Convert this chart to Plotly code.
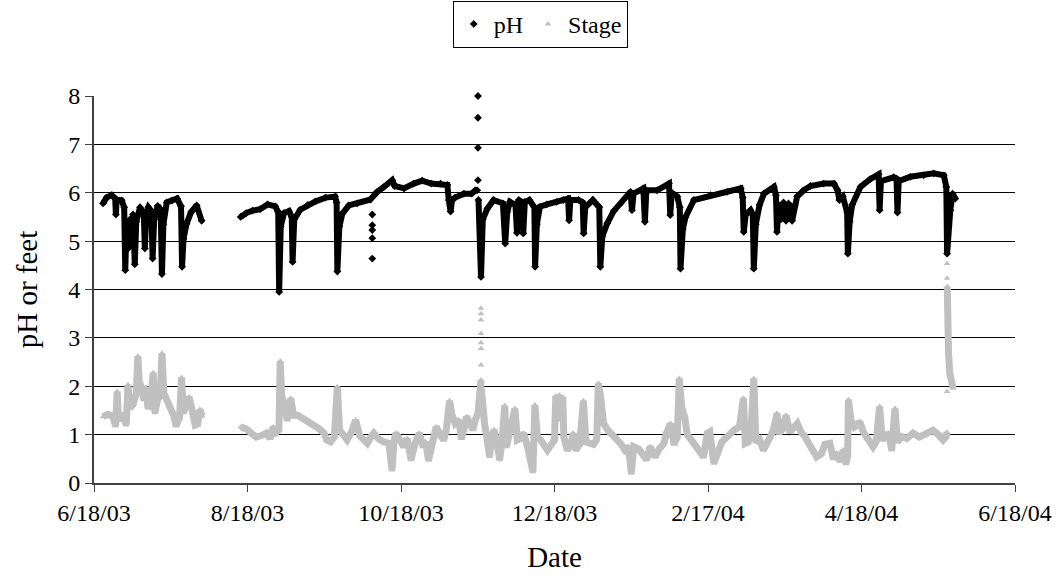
import plotly.graph_objects as go

# Logger readings: (timestamp, value). (None, None) breaks the trace where
# readings are missing or where single readings stand apart from the record.
ph_readings = [
    ("2003-06-21 14:00", 5.78), ("2003-06-23 00:00", 5.90), ("2003-06-25 00:00", 5.95),
    ("2003-06-26 10:00", 5.88), ("2003-06-26 17:00", 5.55), ("2003-06-27 00:00", 5.86),
    ("2003-06-29 00:00", 5.84), ("2003-06-30 00:00", 5.70), ("2003-06-30 10:00", 4.40),
    ("2003-06-30 22:00", 5.25), ("2003-07-01 14:00", 4.85), ("2003-07-02 07:00", 5.45),
    ("2003-07-03 00:00", 5.05), ("2003-07-03 12:00", 5.55), ("2003-07-04 05:00", 4.52),
    ("2003-07-04 19:00", 5.40), ("2003-07-06 07:00", 5.70), ("2003-07-07 19:00", 5.55),
    ("2003-07-08 05:00", 4.85), ("2003-07-08 19:00", 5.60), ("2003-07-09 14:00", 5.70),
    ("2003-07-10 19:00", 5.62), ("2003-07-11 07:00", 4.64), ("2003-07-11 22:00", 5.45),
    ("2003-07-13 07:00", 5.73), ("2003-07-14 12:00", 5.65), ("2003-07-15 00:00", 4.32),
    ("2003-07-15 14:00", 5.35), ("2003-07-16 22:00", 5.80), ("2003-07-19 00:00", 5.84),
    ("2003-07-21 00:00", 5.88), ("2003-07-22 14:00", 5.72), ("2003-07-23 00:00", 4.47),
    ("2003-07-23 14:00", 5.05), ("2003-07-24 19:00", 5.36), ("2003-07-26 14:00", 5.60),
    ("2003-07-28 19:00", 5.74), ("2003-07-30 19:00", 5.42),
    (None, None),
    ("2003-08-15 07:00", 5.50), ("2003-08-17 12:00", 5.58), ("2003-08-20 00:00", 5.63),
    ("2003-08-23 00:00", 5.66), ("2003-08-26 00:00", 5.76), ("2003-08-29 00:00", 5.72),
    ("2003-08-30 05:00", 5.60), ("2003-08-30 14:00", 3.95), ("2003-08-31 05:00", 5.30),
    ("2003-09-01 12:00", 5.58), ("2003-09-03 12:00", 5.62), ("2003-09-04 14:00", 5.50),
    ("2003-09-04 22:00", 4.57), ("2003-09-05 14:00", 5.45), ("2003-09-08 00:00", 5.65),
    ("2003-09-11 00:00", 5.75), ("2003-09-14 00:00", 5.82), ("2003-09-18 00:00", 5.90),
    ("2003-09-21 19:00", 5.92), ("2003-09-22 10:00", 5.80), ("2003-09-22 17:00", 4.37),
    ("2003-09-23 12:00", 5.30), ("2003-09-24 17:00", 5.57), ("2003-09-27 07:00", 5.74),
    ("2003-09-30 14:00", 5.78), ("2003-10-05 22:00", 5.86),
    (None, None), ("2003-10-06 14:00", 5.55), (None, None), ("2003-10-06 14:00", 5.33),
    (None, None), ("2003-10-06 14:00", 5.23), (None, None), ("2003-10-06 14:00", 5.06),
    (None, None), ("2003-10-06 14:00", 4.64), (None, None),
    ("2003-10-06 20:00", 5.92),
    ("2003-10-08 14:00", 6.02), ("2003-10-11 05:00", 6.12), ("2003-10-14 12:00", 6.26),
    ("2003-10-15 12:00", 6.14), ("2003-10-19 05:00", 6.09), ("2003-10-23 02:00", 6.19),
    ("2003-10-26 10:00", 6.25), ("2003-10-30 00:00", 6.19), ("2003-11-02 17:00", 6.19),
    ("2003-11-05 10:00", 6.16), ("2003-11-06 00:00", 5.85), ("2003-11-06 17:00", 5.61),
    ("2003-11-07 07:00", 5.85), ("2003-11-08 12:00", 5.90), ("2003-11-12 00:00", 5.98),
    ("2003-11-15 00:00", 5.98), ("2003-11-16 14:00", 6.05), ("2003-11-17 07:00", 6.05),
    (None, None), ("2003-11-17 14:00", 8.00), (None, None), ("2003-11-17 14:00", 7.55),
    (None, None), ("2003-11-17 14:00", 6.93), (None, None), ("2003-11-17 14:00", 6.26),
    (None, None),
    ("2003-11-17 19:00", 5.85), ("2003-11-18 19:00", 4.26), ("2003-11-19 12:00", 5.45),
    ("2003-11-21 07:00", 5.67), ("2003-11-23 19:00", 5.85), ("2003-11-27 12:00", 5.78),
    ("2003-11-28 10:00", 4.95), ("2003-11-29 05:00", 5.60), ("2003-11-30 07:00", 5.81),
    ("2003-12-02 12:00", 5.75), ("2003-12-03 02:00", 5.17), ("2003-12-03 19:00", 5.85),
    ("2003-12-05 05:00", 5.80), ("2003-12-05 14:00", 5.16), ("2003-12-06 05:00", 5.81),
    ("2003-12-08 00:00", 5.85), ("2003-12-10 00:00", 5.70), ("2003-12-10 07:00", 4.47),
    ("2003-12-11 00:00", 5.35), ("2003-12-12 05:00", 5.71), ("2003-12-15 00:00", 5.76),
    ("2003-12-18 19:00", 5.81), ("2003-12-21 12:00", 5.85), ("2003-12-23 10:00", 5.88),
    ("2003-12-23 19:00", 5.43), ("2003-12-24 07:00", 5.85), ("2003-12-27 12:00", 5.85),
    ("2003-12-29 05:00", 5.80), ("2003-12-29 14:00", 5.16), ("2003-12-30 05:00", 5.70),
    ("2004-01-02 05:00", 5.85), ("2004-01-04 19:00", 5.70), ("2004-01-05 05:00", 4.47),
    ("2004-01-06 00:00", 5.10), ("2004-01-08 00:00", 5.37), ("2004-01-10 12:00", 5.62),
    ("2004-01-13 05:00", 5.78), ("2004-01-17 05:00", 6.02), ("2004-01-17 19:00", 5.64),
    ("2004-01-18 10:00", 5.98), ("2004-01-22 07:00", 6.09), ("2004-01-22 22:00", 5.40),
    ("2004-01-23 12:00", 6.05), ("2004-01-27 19:00", 6.05), ("2004-02-01 12:00", 6.19),
    ("2004-02-02 00:00", 5.54), ("2004-02-02 14:00", 6.00), ("2004-02-04 19:00", 5.92),
    ("2004-02-05 19:00", 5.70), ("2004-02-06 02:00", 4.43), ("2004-02-07 00:00", 5.25),
    ("2004-02-08 02:00", 5.50), ("2004-02-11 10:00", 5.85), ("2004-02-18 00:00", 5.95),
    ("2004-02-24 14:00", 6.02), ("2004-03-01 00:00", 6.09), ("2004-03-01 19:00", 5.90),
    ("2004-03-02 05:00", 5.19), ("2004-03-03 00:00", 5.55), ("2004-03-04 22:00", 5.64),
    ("2004-03-05 19:00", 5.55), ("2004-03-06 05:00", 4.43), ("2004-03-07 00:00", 5.35),
    ("2004-03-08 12:00", 5.75), ("2004-03-10 05:00", 5.98), ("2004-03-14 05:00", 6.12),
    ("2004-03-15 00:00", 5.95), ("2004-03-15 10:00", 5.19), ("2004-03-16 00:00", 5.75),
    ("2004-03-17 00:00", 5.45), ("2004-03-18 00:00", 5.80), ("2004-03-19 00:00", 5.42),
    ("2004-03-20 00:00", 5.78), ("2004-03-21 10:00", 5.42), ("2004-03-22 12:00", 5.75),
    ("2004-03-23 10:00", 5.92), ("2004-03-26 00:00", 6.05), ("2004-03-28 17:00", 6.14),
    ("2004-04-03 00:00", 6.19), ("2004-04-07 00:00", 6.19), ("2004-04-08 12:00", 6.05),
    ("2004-04-09 05:00", 5.85), ("2004-04-10 14:00", 5.92), ("2004-04-12 07:00", 5.60),
    ("2004-04-12 14:00", 4.74), ("2004-04-13 07:00", 5.40), ("2004-04-14 07:00", 5.75),
    ("2004-04-17 14:00", 6.12), ("2004-04-21 10:00", 6.28), ("2004-04-24 19:00", 6.38),
    ("2004-04-25 05:00", 5.64), ("2004-04-25 17:00", 6.24), ("2004-04-30 19:00", 6.32),
    ("2004-05-01 22:00", 6.29), ("2004-05-02 07:00", 5.59), ("2004-05-02 19:00", 6.24),
    ("2004-05-07 10:00", 6.33), ("2004-05-12 17:00", 6.36), ("2004-05-16 17:00", 6.40),
    ("2004-05-20 17:00", 6.36), ("2004-05-21 17:00", 6.12), ("2004-05-22 00:00", 4.74),
    ("2004-05-22 12:00", 5.30), ("2004-05-23 07:00", 5.64), ("2004-05-24 05:00", 5.98),
    ("2004-05-25 07:00", 5.88),
]

stage_readings = [
    ("2003-06-21 14:00", 1.37), ("2003-06-23 12:00", 1.42), ("2003-06-25 12:00", 1.38),
    ("2003-06-26 14:00", 1.18), ("2003-06-27 05:00", 1.89), ("2003-06-27 19:00", 1.30),
    ("2003-06-29 12:00", 1.42), ("2003-06-30 19:00", 1.20), ("2003-07-01 12:00", 2.03),
    ("2003-07-02 05:00", 1.55), ("2003-07-03 12:00", 1.62), ("2003-07-04 19:00", 1.85),
    ("2003-07-05 10:00", 2.62), ("2003-07-06 00:00", 2.10), ("2003-07-07 00:00", 1.95),
    ("2003-07-07 19:00", 1.72), ("2003-07-08 14:00", 1.98), ("2003-07-09 10:00", 1.55),
    ("2003-07-10 12:00", 1.62), ("2003-07-11 12:00", 2.28), ("2003-07-12 05:00", 1.45),
    ("2003-07-13 05:00", 1.72), ("2003-07-14 07:00", 1.80), ("2003-07-15 00:00", 2.68),
    ("2003-07-15 19:00", 1.85), ("2003-07-17 00:00", 1.72), ("2003-07-18 14:00", 1.55),
    ("2003-07-19 19:00", 1.38), ("2003-07-20 14:00", 1.18), ("2003-07-22 00:00", 1.35),
    ("2003-07-22 19:00", 2.18), ("2003-07-23 12:00", 1.45), ("2003-07-24 14:00", 1.60),
    ("2003-07-25 19:00", 1.78), ("2003-07-27 00:00", 1.50), ("2003-07-28 05:00", 1.20),
    ("2003-07-29 05:00", 1.22), ("2003-07-30 02:00", 1.52), ("2003-07-31 00:00", 1.38),
    (None, None),
    ("2003-08-15 07:00", 1.16), ("2003-08-17 12:00", 1.12), ("2003-08-19 12:00", 1.03),
    ("2003-08-21 12:00", 0.95), ("2003-08-23 12:00", 0.98), ("2003-08-25 12:00", 1.03),
    ("2003-08-27 00:00", 0.92), ("2003-08-28 05:00", 1.16), ("2003-08-29 10:00", 1.05),
    ("2003-08-30 12:00", 1.10), ("2003-08-31 00:00", 2.52), ("2003-08-31 14:00", 1.80),
    ("2003-09-01 19:00", 1.60), ("2003-09-02 19:00", 1.30), ("2003-09-04 05:00", 1.75),
    ("2003-09-05 07:00", 1.40), ("2003-09-07 00:00", 1.40), ("2003-09-08 12:00", 1.35),
    ("2003-09-10 00:00", 1.30), ("2003-09-12 00:00", 1.26), ("2003-09-13 19:00", 1.16),
    ("2003-09-15 12:00", 1.12), ("2003-09-17 10:00", 1.03), ("2003-09-18 12:00", 0.89),
    ("2003-09-20 00:00", 0.85), ("2003-09-21 12:00", 0.95), ("2003-09-22 17:00", 1.99),
    ("2003-09-23 14:00", 1.09), ("2003-09-25 00:00", 1.00), ("2003-09-26 14:00", 0.89),
    ("2003-09-28 07:00", 1.05), ("2003-09-30 00:00", 1.30), ("2003-10-01 12:00", 0.98),
    ("2003-10-03 00:00", 0.92), ("2003-10-04 14:00", 0.82), ("2003-10-06 00:00", 0.95),
    ("2003-10-07 05:00", 1.03), ("2003-10-09 00:00", 0.92), ("2003-10-11 00:00", 0.85),
    ("2003-10-13 05:00", 0.82), ("2003-10-14 10:00", 0.27), ("2003-10-15 05:00", 0.85),
    ("2003-10-15 22:00", 1.03), ("2003-10-17 12:00", 0.90), ("2003-10-19 00:00", 0.75),
    ("2003-10-20 12:00", 0.92), ("2003-10-22 00:00", 0.48), ("2003-10-23 12:00", 0.80),
    ("2003-10-25 07:00", 1.03), ("2003-10-26 19:00", 0.75), ("2003-10-27 19:00", 0.85),
    ("2003-10-28 22:00", 0.47), ("2003-10-30 12:00", 0.90), ("2003-11-01 00:00", 1.16),
    ("2003-11-02 17:00", 0.98), ("2003-11-04 00:00", 0.89), ("2003-11-05 00:00", 1.10),
    ("2003-11-06 07:00", 1.70), ("2003-11-07 07:00", 1.40), ("2003-11-08 12:00", 1.23),
    ("2003-11-10 00:00", 1.30), ("2003-11-11 00:00", 0.92), ("2003-11-12 00:00", 1.10),
    ("2003-11-13 00:00", 1.37), ("2003-11-14 12:00", 1.23), ("2003-11-15 12:00", 1.10),
    ("2003-11-16 12:00", 1.30), ("2003-11-17 14:00", 1.44), ("2003-11-18 19:00", 2.13),
    (None, None), ("2003-11-18 19:00", 2.44), (None, None), ("2003-11-18 19:00", 2.78),
    (None, None), ("2003-11-18 19:00", 2.90), (None, None), ("2003-11-18 19:00", 3.09),
    (None, None), ("2003-11-18 19:00", 3.37), (None, None), ("2003-11-18 19:00", 3.50),
    (None, None), ("2003-11-18 19:00", 3.61), (None, None),
    ("2003-11-18 22:00", 1.95),
    ("2003-11-19 10:00", 1.60), ("2003-11-20 05:00", 1.23), ("2003-11-21 05:00", 0.90),
    ("2003-11-22 05:00", 0.55), ("2003-11-23 00:00", 0.95), ("2003-11-24 00:00", 1.10),
    ("2003-11-25 05:00", 0.80), ("2003-11-26 05:00", 0.48), ("2003-11-27 05:00", 0.90),
    ("2003-11-28 05:00", 1.60), ("2003-11-28 22:00", 0.75), ("2003-11-30 00:00", 0.95),
    ("2003-12-01 00:00", 1.23), ("2003-12-02 07:00", 1.54), ("2003-12-03 05:00", 0.89),
    ("2003-12-04 12:00", 0.92), ("2003-12-05 19:00", 1.03), ("2003-12-07 12:00", 0.70),
    ("2003-12-09 10:00", 0.23), ("2003-12-10 05:00", 1.61), ("2003-12-11 05:00", 0.95),
    ("2003-12-12 12:00", 0.89), ("2003-12-14 00:00", 0.75), ("2003-12-15 05:00", 0.68),
    ("2003-12-16 19:00", 0.80), ("2003-12-18 00:00", 0.89), ("2003-12-18 12:00", 1.80),
    ("2003-12-19 05:00", 1.32), ("2003-12-19 22:00", 1.82), ("2003-12-20 14:00", 1.30),
    ("2003-12-21 07:00", 1.78), ("2003-12-21 17:00", 0.95), ("2003-12-23 02:00", 0.68),
    ("2003-12-24 12:00", 0.80), ("2003-12-25 10:00", 1.03), ("2003-12-26 12:00", 0.68),
    ("2003-12-28 00:00", 0.80), ("2003-12-29 12:00", 1.70), ("2003-12-30 12:00", 0.85),
    ("2004-01-01 00:00", 0.82), ("2004-01-02 12:00", 0.80), ("2004-01-03 19:00", 0.90),
    ("2004-01-04 10:00", 2.06), ("2004-01-05 07:00", 1.80), ("2004-01-06 12:00", 1.23),
    ("2004-01-08 05:00", 1.09), ("2004-01-09 10:00", 1.03), ("2004-01-11 00:00", 0.95),
    ("2004-01-13 05:00", 0.82), ("2004-01-15 00:00", 0.68), ("2004-01-16 12:00", 0.75),
    ("2004-01-17 12:00", 0.20), ("2004-01-18 12:00", 0.75), ("2004-01-20 12:00", 0.70),
    ("2004-01-22 12:00", 0.54), ("2004-01-23 14:00", 0.48), ("2004-01-25 00:00", 0.75),
    ("2004-01-27 00:00", 0.54), ("2004-01-28 12:00", 0.70), ("2004-01-30 12:00", 0.82),
    ("2004-01-31 12:00", 1.03), ("2004-02-02 02:00", 1.23), ("2004-02-03 12:00", 0.80),
    ("2004-02-04 19:00", 0.95), ("2004-02-05 14:00", 2.16), ("2004-02-06 14:00", 1.55),
    ("2004-02-07 17:00", 1.37), ("2004-02-08 19:00", 1.00), ("2004-02-10 12:00", 0.88),
    ("2004-02-12 12:00", 0.75), ("2004-02-14 00:00", 0.65), ("2004-02-15 05:00", 0.54),
    ("2004-02-16 17:00", 1.03), ("2004-02-17 17:00", 1.06), ("2004-02-19 07:00", 0.41),
    ("2004-02-21 00:00", 0.60), ("2004-02-22 12:00", 0.85), ("2004-02-24 12:00", 0.95),
    ("2004-02-25 22:00", 1.03), ("2004-02-27 12:00", 1.10), ("2004-02-29 12:00", 1.16),
    ("2004-03-02 02:00", 1.75), ("2004-03-02 19:00", 0.82), ("2004-03-04 00:00", 0.85),
    ("2004-03-05 00:00", 1.00), ("2004-03-06 05:00", 2.16), ("2004-03-07 00:00", 0.85),
    ("2004-03-08 12:00", 0.90), ("2004-03-10 00:00", 0.68), ("2004-03-11 05:00", 0.82),
    ("2004-03-12 19:00", 0.95), ("2004-03-14 00:00", 1.09), ("2004-03-15 10:00", 1.44),
    ("2004-03-16 05:00", 1.03), ("2004-03-17 12:00", 1.10), ("2004-03-19 00:00", 1.40),
    ("2004-03-20 12:00", 1.05), ("2004-03-22 00:00", 1.15), ("2004-03-23 12:00", 1.23),
    ("2004-03-25 00:00", 1.05), ("2004-03-26 12:00", 0.96), ("2004-03-28 05:00", 0.80),
    ("2004-03-29 19:00", 0.68), ("2004-03-31 05:00", 0.54), ("2004-04-02 00:00", 0.60),
    ("2004-04-03 12:00", 0.80), ("2004-04-05 10:00", 0.82), ("2004-04-06 19:00", 0.50),
    ("2004-04-08 00:00", 0.62), ("2004-04-09 12:00", 0.45), ("2004-04-10 17:00", 0.68),
    ("2004-04-11 19:00", 0.40), ("2004-04-12 12:00", 0.55), ("2004-04-12 19:00", 1.72),
    ("2004-04-13 19:00", 1.30), ("2004-04-15 05:00", 1.16), ("2004-04-16 10:00", 1.20),
    ("2004-04-17 07:00", 1.27), ("2004-04-18 19:00", 1.05), ("2004-04-20 12:00", 0.90),
    ("2004-04-22 14:00", 0.75), ("2004-04-23 19:00", 0.85), ("2004-04-25 05:00", 1.58),
    ("2004-04-26 05:00", 0.89), ("2004-04-27 12:00", 0.95), ("2004-04-28 19:00", 1.03),
    ("2004-04-30 00:00", 0.68), ("2004-05-01 07:00", 1.54), ("2004-05-02 07:00", 0.85),
    ("2004-05-04 00:00", 0.96), ("2004-05-06 00:00", 0.92), ("2004-05-08 12:00", 1.03),
    ("2004-05-11 00:00", 0.95), ("2004-05-13 12:00", 1.00), ("2004-05-16 10:00", 1.09),
    ("2004-05-18 12:00", 1.00), ("2004-05-20 10:00", 0.89), ("2004-05-21 14:00", 0.96),
    ("2004-05-21 22:00", 1.05),
    (None, None), ("2004-05-22 00:00", 4.54), (None, None), ("2004-05-22 00:00", 4.23),
    (None, None), ("2004-05-22 00:00", 1.89), (None, None),
    ("2004-05-22 02:00", 4.06), ("2004-05-22 05:00", 3.02), ("2004-05-22 14:00", 2.68),
    ("2004-05-23 02:00", 2.27), ("2004-05-23 17:00", 2.06), ("2004-05-24 10:00", 1.96),
]

tick_dates = ["2003-06-18", "2003-08-18", "2003-10-18", "2003-12-18",
              "2004-02-17", "2004-04-18", "2004-06-18"]
tick_labels = ["6/18/03", "8/18/03", "10/18/03", "12/18/03",
               "2/17/04", "4/18/04", "6/18/04"]

ph_time, ph_value = zip(*ph_readings)
stage_time, stage_value = zip(*stage_readings)

PH_COLOR = "#000000"
STAGE_COLOR = "#c0c0c0"
AXIS_COLOR = "#404040"
FONT = "Liberation Serif, Times New Roman, serif"

fig = go.Figure()

fig.add_trace(go.Scatter(
    x=list(stage_time), y=list(stage_value), mode="lines+markers",
    line=dict(color=STAGE_COLOR, width=7),
    marker=dict(symbol="triangle-up", size=6, color=STAGE_COLOR),
    showlegend=False, cliponaxis=False, hoverinfo="x+y", name="Stage",
))
fig.add_trace(go.Scatter(
    x=list(ph_time), y=list(ph_value), mode="lines+markers",
    line=dict(color=PH_COLOR, width=6),
    marker=dict(symbol="diamond", size=6, color=PH_COLOR),
    showlegend=False, cliponaxis=False, hoverinfo="x+y", name="pH",
))

# legend keys show the marker symbols only
fig.add_trace(go.Scatter(x=[None], y=[None], mode="markers", name="pH",
                         marker=dict(symbol="diamond", size=6, color=PH_COLOR)))
fig.add_trace(go.Scatter(x=[None], y=[None], mode="markers", name="Stage",
                         marker=dict(symbol="triangle-up", size=6, color=STAGE_COLOR)))

fig.update_layout(
    width=1060, height=583,
    margin=dict(l=94, r=45, t=96, b=100, autoexpand=False),
    paper_bgcolor="white", plot_bgcolor="white",
    font=dict(family=FONT, size=24, color="black"),
    legend=dict(
        orientation="h", x=0.3895, xanchor="left", y=1.246, yanchor="top",
        bordercolor="black", borderwidth=1, bgcolor="white",
        font=dict(family=FONT, size=24), itemwidth=30,
        tracegroupgap=0,
    ),
)

fig.update_xaxes(
    type="date", range=["2003-06-18", "2004-06-18"],
    tickmode="array", tickvals=tick_dates, ticktext=tick_labels,
    showgrid=False, zeroline=False,
    showline=True, linecolor=AXIS_COLOR, linewidth=2,
    ticks="outside", ticklen=7, tickcolor=AXIS_COLOR, tickwidth=1,
    ticklabelstandoff=0,
    title=dict(text="Date", standoff=22),
)
fig.update_yaxes(
    range=[0, 8], tick0=0, dtick=1,
    showgrid=True, gridcolor="black", gridwidth=1, zeroline=False,
    showline=True, linecolor=AXIS_COLOR, linewidth=2,
    ticks="outside", ticklen=7, tickcolor=AXIS_COLOR, tickwidth=1,
    title=dict(text="pH or feet", standoff=22),
)

fig.write_html("out.html")
